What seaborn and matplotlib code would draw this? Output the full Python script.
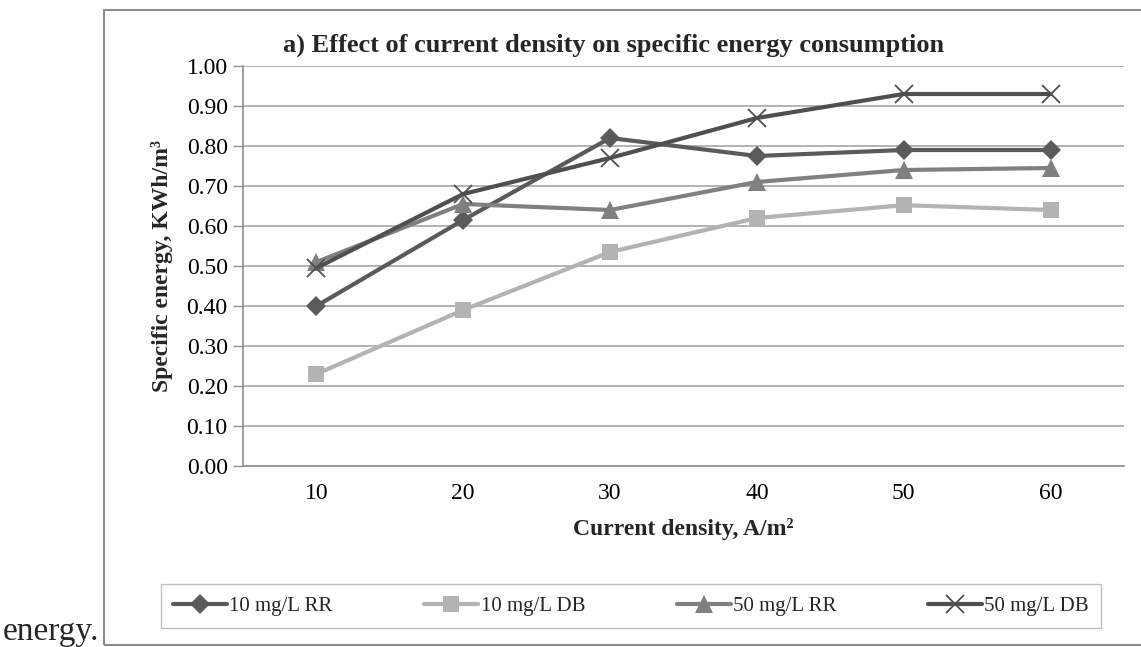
import matplotlib
matplotlib.use("Agg")
import matplotlib.pyplot as plt
import seaborn as sns
import pandas as pd
from matplotlib.patches import Rectangle
from matplotlib.ticker import FixedLocator

# ---- data ----
current_density = [10, 20, 30, 40, 50, 60]
rr_10 = [0.40, 0.615, 0.82, 0.775, 0.79, 0.79]
db_10 = [0.23, 0.39, 0.535, 0.62, 0.652, 0.64]
rr_50 = [0.51, 0.655, 0.64, 0.71, 0.74, 0.745]
db_50 = [0.495, 0.68, 0.77, 0.87, 0.93, 0.93]
series_names = ["10 mg/L RR", "10 mg/L DB", "50 mg/L RR", "50 mg/L DB"]
y_ticks = [0.0, 0.1, 0.2, 0.3, 0.4, 0.5, 0.6, 0.7, 0.8, 0.9, 1.0]

sns.set_theme(style="white")
plt.rcParams["font.family"] = ["Liberation Serif", "DejaVu Serif"]

frames = []
for name, vals in zip(series_names, [rr_10, db_10, rr_50, db_50]):
    frames.append(pd.DataFrame({"cd": current_density, "se": vals, "series": name}))
df = pd.concat(frames, ignore_index=True)

colors = {"10 mg/L RR": "#5a5a5a", "10 mg/L DB": "#b3b3b3",
          "50 mg/L RR": "#808080", "50 mg/L DB": "#4f4f4f"}
markers = {"10 mg/L RR": "D", "10 mg/L DB": "s", "50 mg/L RR": "^", "50 mg/L DB": "x"}
msizes = {"10 mg/L RR": 10, "10 mg/L DB": 12, "50 mg/L RR": 13, "50 mg/L DB": 13}

W, H = 1141, 647
fig = plt.figure(figsize=(W / 100, H / 100), dpi=100)
ax = fig.add_axes([243 / W, 1 - 466 / H, (1124 - 243) / W, (466 - 66) / H])

for name in series_names:
    sub = df[df["series"] == name]
    mew = 1.3 if markers[name] == "x" else 0
    sns.lineplot(data=sub, x="cd", y="se", ax=ax, color=colors[name],
                 marker=markers[name], markersize=msizes[name],
                 markeredgewidth=mew, markeredgecolor=colors[name],
                 linewidth=3, label=name, legend=False)

ax.set_xlim(5, 65)
ax.set_ylim(0, 1.0)
ax.set_yticks(y_ticks)
ax.set_yticklabels([f"{v:.2f}" for v in y_ticks])
ax.set_xticks(current_density)
ax.set_xticklabels([str(v) for v in current_density])
ax.xaxis.set_minor_locator(FixedLocator([5, 15, 25, 35, 45, 55, 65]))
ax.tick_params(axis="x", which="major", length=0, pad=12, labelsize=17, colors="black")
ax.tick_params(axis="x", which="minor", length=7, width=1, color="#909090", direction="out")
ax.tick_params(axis="y", which="major", length=7, width=1, color="#909090",
               direction="out", pad=4, labelsize=17, labelcolor="black", left=True)
ax.grid(axis="y", color="#a6a6a6", linewidth=1.2)
ax.grid(axis="x", visible=False)
for s in ["top", "right"]:
    ax.spines[s].set_visible(False)
for s in ["left", "bottom"]:
    ax.spines[s].set_color("#909090")
    ax.spines[s].set_linewidth(1.2)
ax.set_axisbelow(True)

ax.set_xlabel("Current density, A/m²", fontsize=17, fontweight="bold", labelpad=10)
ax.set_ylabel("Specific energy, KWh/m³", fontsize=17, fontweight="bold", labelpad=10)
fig.text(614 / W, 1 - 45 / H,
         "a) Effect of current density on specific energy consumption",
         ha="center", va="center", fontsize=19, fontweight="bold")

handles, labels = ax.get_legend_handles_labels()
leg = fig.legend(handles, labels, loc="center", ncol=4,
                 bbox_to_anchor=(631 / W, 1 - 606 / H),
                 frameon=True, fancybox=False, fontsize=15,
                 handlelength=2.6, handletextpad=0.1, columnspacing=4.4,
                 borderpad=0.6, edgecolor="#b0b0b0")
leg.get_frame().set_linewidth(1.0)

# outer chart frame
fig.patches.append(Rectangle((104 / W, 2 / H), 1.0, (645 - 10) / H,
                             transform=fig.transFigure, fill=False,
                             edgecolor="#8c8c8c", linewidth=1.5))
fig.text(3 / W, 7 / H, "energy.", fontsize=24, ha="left", va="baseline")

fig.savefig("out.png", dpi=100)
